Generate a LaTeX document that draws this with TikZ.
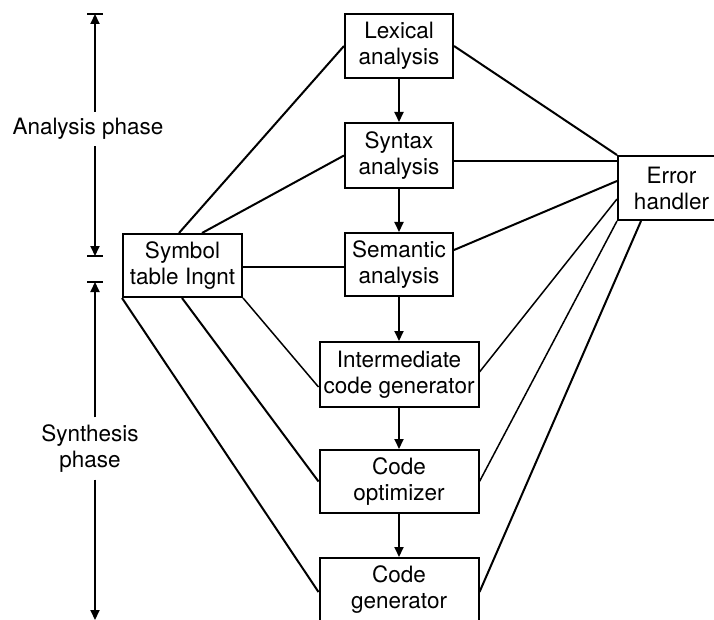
\documentclass[tikz,border=0pt]{standalone}
\usepackage{fontspec}
\setmainfont{TeX Gyre Heros}
\usetikzlibrary{arrows.meta}
\begin{document}
\begin{tikzpicture}[x=1pt,y=-1pt,
  font=\fontsize{22.5}{26}\selectfont,
  box/.style={draw, line width=2pt, align=center, inner sep=0pt},
  link/.style={line width=2pt},
  thinlink/.style={line width=1.5pt},
  tip/.style={-{Triangle[length=10pt,width=9pt]}},
  flow/.style={line width=2pt, tip},
  phase/.style={line width=2pt},
  label/.style={align=center, inner xsep=2pt},
]
\useasboundingbox (0,0) rectangle (714,620);
\clip (0,0) rectangle (714,620);

% compiler phases
\node[box, minimum width=108pt, minimum height=64pt] (lex) at (399,46)    {Lexical\\analysis};
\node[box, minimum width=108pt, minimum height=65pt] (syn) at (399,155.5) {Syntax\\analysis};
\node[box, minimum width=108pt, minimum height=63pt] (sem) at (399,264.5) {Semantic\\analysis};
\node[box, minimum width=159pt, minimum height=65pt] (int) at (399,374.5) {Intermediate\\code generator};
\node[box, minimum width=159pt, minimum height=63pt] (opt) at (399,481.5) {Code\\optimizer};
\node[box, minimum width=159pt, minimum height=64pt] (gen) at (399,590)   {Code\\generator};

% side boxes
\node[box, minimum width=119pt, minimum height=63pt] (sym) at (182.5,265.5) {Symbol\\table Ingnt};
\node[box, minimum width=107pt, minimum height=64pt] (err) at (671.5,188)   {Error\\handler};

% main flow
\draw[flow] (lex) -- (syn);
\draw[flow] (syn) -- (sem);
\draw[flow] (sem) -- (int);
\draw[flow] (int) -- (opt);
\draw[flow] (opt) -- (gen);

% symbol table links
\draw[link] ([xshift=57pt]sym.north west) -- (lex.west);
\draw[link] ([xshift=80pt]sym.north west) -- (syn.west);
\draw[link] ([yshift=-1.5pt]sym.east) -- ([yshift=-1.5pt]sym.east -| sem.west);
\draw[thinlink] (sym.south east) -- ([yshift=-46pt]int.north west);
\draw[link] ([xshift=60pt]sym.south west) -- (opt.west);
\draw[link] (sym.south west) -- ([yshift=-35pt]gen.north west);

% error handler links
\draw[link] (lex.east) -- (err.north west);
\coordinate (errS) at ([yshift=-6pt]err.north west);
\draw[link] (errS -| syn.east) -- (errS);
\draw[link] ([yshift=14.5pt]sem.east) -- ([yshift=-26pt]err.north west);
\draw[thinlink] ([yshift=2.5pt]int.east) -- ([yshift=-44pt]err.north west);
\draw[thinlink] (opt.east) -- (err.south west);
\draw[link] ([yshift=-35pt]gen.north east) -- ([xshift=24pt]err.south west);

% phase ranges
\coordinate (aTop) at (95,14);
\coordinate (aBot) at (95,256);
\coordinate (sTop) at (95,282);
\coordinate (sBot) at (95,620);
\node[label, inner ysep=6.5pt] (alab) at (88,129) {Analysis phase};
\node[label, inner ysep=7pt] (slab) at (90,448.5) {Synthesis\\phase};

\draw[phase, tip] (alab.north -| aTop) -- (aTop);
\draw[phase, tip] (alab.south -| aBot) -- (aBot);
\draw[phase, tip] (slab.north -| sTop) -- (sTop);
\draw[phase, tip] (slab.south -| sBot) -- (sBot);
\draw[phase] ([xshift=-8pt]aTop) -- ([xshift=8pt]aTop);
\draw[phase] ([xshift=-8pt]aBot) -- ([xshift=8pt]aBot);
\draw[phase] ([xshift=-8pt]sTop) -- ([xshift=8pt]sTop);
\end{tikzpicture}
\end{document}
